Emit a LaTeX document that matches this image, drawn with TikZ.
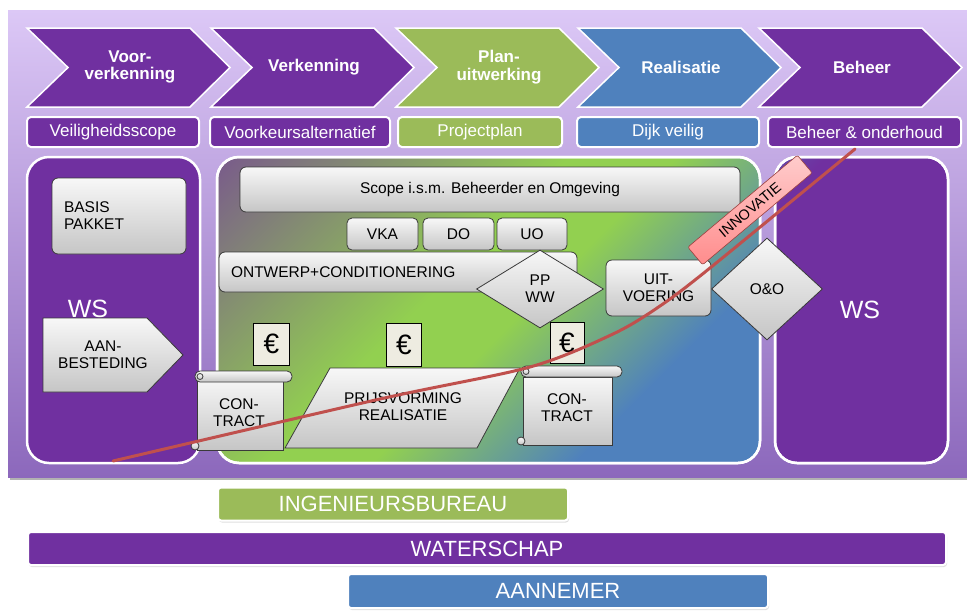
\documentclass[tikz,border=0pt]{standalone}
\usepackage{fontspec}
\setmainfont{Liberation Sans}
\usetikzlibrary{shapes.geometric,shadows}
\definecolor{pur}{HTML}{7030A0}
\definecolor{grn}{HTML}{9BBB59}
\definecolor{lgrn}{HTML}{92D050}
\definecolor{blu}{HTML}{4F81BD}
\definecolor{redl}{HTML}{C0504D}
\definecolor{beig}{HTML}{EEECE1}
\definecolor{bgtop}{HTML}{DCC8F6}
\definecolor{bgbot}{HTML}{8C68BC}
\definecolor{boxline}{HTML}{3A3A3A}
\pgfdeclarehorizontalshading{midgrad}{100bp}{color(0bp)=(pur); color(10bp)=(pur!85!lgrn); color(44bp)=(lgrn); color(53bp)=(lgrn); color(70bp)=(blu); color(100bp)=(blu)}
\pgfdeclarehorizontalshading{rightgrad}{100bp}{color(0bp)=(blu); color(22bp)=(pur); color(100bp)=(pur)}
\tikzset{
  fs/.style 2 args={font=\fontsize{#1}{#2}\selectfont},
  chevtext/.style={text=white, font=\bfseries\fontsize{17}{17.5}\selectfont, align=center, inner sep=0pt},
  lbox/.style={draw=white, line width=2pt, rounded corners=4pt, text=white, fs={17}{18}, inner sep=0pt},
  panel/.style={draw=white, line width=2.5pt, rounded corners=22pt},
  graybox/.style={draw=boxline, top color=gray!6, bottom color=gray!45, line width=0.8pt, rounded corners=6pt, fs={15.5}{17}, align=center, inner sep=0pt},
  grayfill/.style={draw=boxline, top color=gray!6, bottom color=gray!45, line width=0.8pt},
  euro/.style={draw=black, fill=beig, line width=0.8pt, fs={28}{30}, inner sep=0pt},
  bbar/.style={draw=white, line width=2pt, rounded corners=3pt, text=white, fs={22}{23}, inner sep=0pt, drop shadow={shadow xshift=1pt, shadow yshift=-2pt, opacity=0.25}},
  plain/.style={align=center, inner sep=0pt, fs={15.5}{17}}
}
\begin{document}
\begin{tikzpicture}[x=1pt,y=-1pt]
\useasboundingbox (0,0) rectangle (967,611);
% background panel
\fill[gray!60] (10,13) rectangle (967,480);
\shade[top color=bgtop, bottom color=bgbot] (8,10) rectangle (967,477);
% chevrons
\foreach \x/\c/\n/\t in {27/pur/ch1/{Voor-\\verkenning}, 211/pur/ch2/{Verkenning}, 396/grn/ch3/{Plan-\\uitwerking}, 578/blu/ch4/{Realisatie}, 759/pur/ch5/{Beheer}}{
  \fill[\c, draw=white, line width=1.5pt] (\x,28) -- (\x+163,28) -- (\x+203,67.5) -- (\x+163,107) -- (\x,107) -- (\x+41,67.5) -- cycle;
  \node[chevtext] (\n) at (\x+103,67) {\t};
}
% label boxes
\node[lbox, fill=pur, minimum width=172pt, minimum height=30pt] (l1) at (113,132) {Veiligheidsscope};
\node[lbox, fill=pur, minimum width=180pt, minimum height=30pt] (l2) at (300,132) {Voorkeursalternatief};
\node[lbox, fill=grn, minimum width=164pt, minimum height=30pt] (l3) at (480,132) {Projectplan};
\node[lbox, fill=blu, minimum width=182pt, minimum height=30pt] (l4) at (668,132) {Dijk veilig};
\node[lbox, fill=pur, minimum width=193pt, minimum height=30pt] (l5) at (864.5,132) {Beheer \& onderhoud};
% panels
\fill[pur, panel] (27,157) rectangle (200,463);
\shade[shading=midgrad, shading angle=-45, panel] (217,157) rectangle (760,463);
\draw[panel] (217,157) rectangle (760,463);
\shade[shading=rightgrad, shading angle=-45, panel] (775,157) rectangle (948,463);
\draw[panel] (775,157) rectangle (948,463);
% left panel content
\node[graybox, minimum width=134pt, minimum height=76pt, text width=110pt, align=left] (basis) at (119,216) {BASIS\\PAKKET};
\node[text=white, fs={25}{26}, inner sep=0pt] (wsl) at (88,309) {WS};
\draw[grayfill] (43,318) -- (147,318) -- (183,355) -- (147,392) -- (43,392) -- cycle;
\node[plain] (aan) at (103,355) {AAN-\\BESTEDING};
% right panel
\node[text=white, fs={25}{26}, inner sep=0pt] (wsr) at (860,310) {WS};
% middle panel content
\node[graybox, minimum width=500pt, minimum height=45pt] (scope) at (490,189.5) {Scope i.s.m. Beheerder en Omgeving};
\node[graybox, rounded corners=5pt, minimum width=71pt, minimum height=32pt] (vka) at (382.5,234) {VKA};
\node[graybox, rounded corners=5pt, minimum width=71pt, minimum height=32pt] (do) at (458.5,234) {DO};
\node[graybox, rounded corners=5pt, minimum width=70pt, minimum height=32pt] (uo) at (532,234) {UO};
\node[graybox, minimum height=40pt, text width=334pt, inner xsep=12pt, align=left] (ontw) at (398,272) {ONTWERP+CONDITIONERING};
\node[graybox, rounded corners=0pt, diamond, minimum width=127pt, minimum height=78pt, aspect=1.63] (ppww) at (540,289) {PP\\WW};
\node[graybox, minimum width=105pt, minimum height=56pt] (uit) at (658.5,288) {UIT-\\VOERING};
\node[graybox, rounded corners=0pt, diamond, minimum width=111pt, minimum height=102pt, aspect=1.09] (oo) at (767,289) {O\&O};
% euro boxes
\node[euro, minimum width=36pt, minimum height=42pt] (e1) at (271.5,344) {€};
\node[euro, minimum width=35pt, minimum height=43pt] (e2) at (404,344.5) {€};
\node[euro, minimum width=34pt, minimum height=41pt] (e3) at (567,342.5) {€};
% contract scroll 1
\draw[grayfill] (197,377) rectangle (283,450);
\draw[grayfill, rounded corners=5pt] (195,371) rectangle (292,382);
\draw[grayfill] (200,376.5) circle (3);
\draw[grayfill] (195,446) circle (4);
\node[plain] (ct1) at (239,413) {CON-\\TRACT};
% prijsvorming
\draw[grayfill] (285,448) -- (330,368) -- (520,368) -- (477,448) -- cycle;
\node[plain] (prijs) at (403,407) {PRIJSVORMING\\REALISATIE};
% contract scroll 2
\draw[grayfill] (523,377) rectangle (612,445);
\draw[grayfill, rounded corners=5pt] (521,366) rectangle (622,377);
\draw[grayfill] (526,371.5) circle (3);
\draw[grayfill] (521,441) circle (4);
\node[plain] (ct2) at (567,408) {CON-\\TRACT};
% red curve
\draw[redl, line width=3pt, line cap=round] plot[smooth, tension=0.5] coordinates {(113,461) (380,399) (530,367) (613,334) (660,306) (710,268) (855,149)};
% innovatie label
\node[draw=redl!80!black, top color=red!20, bottom color=red!45, line width=0.6pt, rotate=40, minimum width=143pt, minimum height=23pt, inner sep=0pt, fs={14.5}{15}, rounded corners=2pt] (innov) at (750,210) {INNOVATIE};
% bottom bars
\node[bbar, fill=grn, minimum width=350pt, minimum height=33pt] (ib) at (393,504) {INGENIEURSBUREAU};
\node[bbar, fill=pur, minimum width=918pt, minimum height=33pt] (wsch) at (487,548.5) {WATERSCHAP};
\node[bbar, fill=blu, minimum width=420pt, minimum height=34pt] (ann) at (558,591) {AANNEMER};
\end{tikzpicture}
\end{document}
